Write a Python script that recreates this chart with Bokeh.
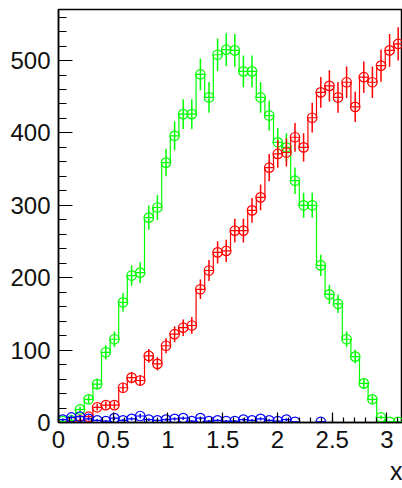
import math
from bokeh.plotting import figure
from bokeh.models import Range1d, FixedTicker, Title, NumeralTickFormatter
from bokeh.embed import file_html
from bokeh.resources import INLINE

# ---- data (40 bins from 0 to pi) ----
n_bins = 40
x_lo = 0.0
x_hi = math.pi

green_counts = [2, 3, 18, 32, 53, 97, 115, 166, 203, 207,
                283, 297, 359, 396, 426, 426, 481, 449, 508, 515,
                514, 485, 485, 449, 424, 387, 380, 334, 300, 300,
                217, 177, 164, 115, 91, 54, 32, 7, 1, 1]

red_counts = [0, 1, 3, 8, 21, 24, 24, 48, 62, 58,
              92, 81, 106, 122, 131, 134, 184, 210, 235, 237,
              265, 265, 293, 311, 352, 371, 373, 394, 380, 421,
              456, 465, 449, 470, 436, 477, 470, 493, 514, 523]

blue_counts = [4, 7, 8, 5, 3, 2, 6, 3, 5, 9,
               4, 3, 4, 5, 6, 2, 6, 2, 3, 2,
               2, 4, 3, 5, 3, 2, 4, 1, 0, 0,
               1, 0, 0, 0, 0, 0, 0, 0, 0, 0]

x_ticks = [0, 0.5, 1, 1.5, 2, 2.5, 3]
x_minor = [round(0.1 * i, 2) for i in range(32)]
y_ticks = [0, 100, 200, 300, 400, 500]
y_minor = [20 * i for i in range(29)]

# ---- figure ----
p = figure(width=402, height=488, output_backend="svg", toolbar_location=None,
           x_range=Range1d(x_lo, x_hi), y_range=Range1d(0, 570.5),
           min_border_left=58, min_border_right=0, min_border_top=9,
           min_border_bottom=66)
p.grid.visible = False
p.background_fill_color = "white"
p.border_fill_color = "white"
p.outline_line_color = "black"
p.outline_line_width = 1.5

edges = [x_lo + i * (x_hi - x_lo) / n_bins for i in range(n_bins + 1)]
centers = [(edges[i] + edges[i + 1]) / 2 for i in range(n_bins)]

def draw_hist(counts, color):
    p.step(x=edges, y=counts + [counts[-1]], mode="after",
           line_color=color, line_width=1.2)
    xs = [c for c, v in zip(centers, counts) if v > 0]
    vs = [v for v in counts if v > 0]
    lo = [v - math.sqrt(v) for v in vs]
    hi = [v + math.sqrt(v) for v in vs]
    p.segment(x0=xs, y0=lo, x1=xs, y1=hi, line_color=color, line_width=1.5)
    p.scatter(x=xs, y=vs, marker="circle", size=9.5, fill_color=None,
              line_color=color, line_width=1.2)

draw_hist(green_counts, "#00ff00")
draw_hist(red_counts, "#ff0000")
draw_hist(blue_counts, "#0000ff")

# ---- axes ----
for ax in (p.xaxis[0], p.yaxis[0]):
    ax.axis_line_color = "black"
    ax.axis_line_width = 1.5
    ax.major_tick_line_color = "black"
    ax.minor_tick_line_color = "black"
    ax.major_tick_line_width = 1.2
    ax.minor_tick_line_width = 1.2
    ax.major_tick_out = 0
    ax.minor_tick_out = 0
    ax.major_label_text_font = "Liberation Sans"
    ax.major_label_text_font_size = "24px"
    ax.major_label_text_color = "#111111"

p.xaxis.ticker = FixedTicker(ticks=x_ticks, minor_ticks=x_minor)
p.xaxis.formatter = NumeralTickFormatter(format="0.[0]")
p.xaxis.major_tick_in = 10
p.xaxis.minor_tick_in = 5
p.xaxis.major_label_standoff = 8

p.yaxis.ticker = FixedTicker(ticks=y_ticks, minor_ticks=y_minor)
p.yaxis.major_tick_in = 14
p.yaxis.minor_tick_in = 8
p.yaxis.major_label_standoff = 8

p.add_layout(Title(text="x", align="right", text_font="Liberation Sans",
                   text_font_size="25px", text_font_style="normal",
                   text_color="#111111", standoff=8, offset=0), "below")

open("out.html", "w").write(file_html(p, INLINE))
